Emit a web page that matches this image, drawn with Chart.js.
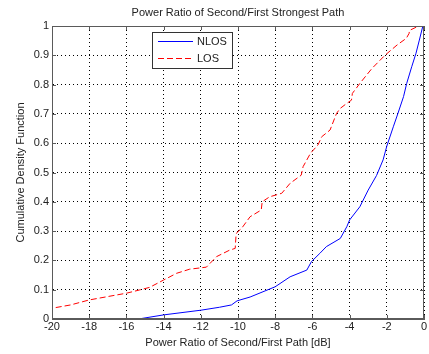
<!DOCTYPE html>
<html>
<head>
<meta charset="utf-8">
<script src="https://cdn.jsdelivr.net/npm/chart.js@4.4.1/dist/chart.umd.min.js"></script>
<style>
  body { margin: 0; background: #fff; }
</style>
</head>
<body>
<canvas id="cdf" width="429" height="354"></canvas>
<script>
// values
const nlosX = [-15.35, -14.0, -12.0, -11.0, -10.35, -10.05, -9.35, -8.0, -7.2, -6.3, -6.05, -5.6, -5.25, -4.5, -4.15, -4.0, -3.45, -3.0, -2.55, -2.2, -2.0, -1.65, -1.4, -1.1, -0.93, -0.66, -0.43, -0.25, -0.07, 0]
const nlosY = [0, 0.014, 0.03, 0.04, 0.048, 0.062, 0.075, 0.11, 0.144, 0.167, 0.196, 0.224, 0.247, 0.275, 0.315, 0.338, 0.383, 0.44, 0.49, 0.543, 0.59, 0.656, 0.702, 0.759, 0.804, 0.861, 0.907, 0.952, 0.998, 1]

const losX = [-19.8, -19.0, -18.0, -17.05, -16.0, -15.3, -14.75, -14.0, -13.3, -12.6, -11.7, -11.15, -10.45, -10.15, -10.1, -9.8, -9.35, -8.75, -8.7, -8.3, -7.65, -7.2, -6.6, -6.5, -6.1, -5.7, -5.5, -5.05, -4.7, -4.5, -4.15, -3.9, -3.85, -3.45, -2.8, -2.1, -1.45, -0.95, -0.8, -0.78, -0.35, -0.3]
const losY = [0.039, 0.048, 0.065, 0.076, 0.088, 0.099, 0.108, 0.133, 0.156, 0.17, 0.177, 0.213, 0.235, 0.241, 0.292, 0.31, 0.349, 0.372, 0.40, 0.417, 0.429, 0.463, 0.491, 0.52, 0.566, 0.594, 0.622, 0.645, 0.702, 0.719, 0.736, 0.747, 0.77, 0.804, 0.855, 0.9, 0.935, 0.958, 0.975, 0.985, 0.998, 1.0]

const seriesNames = ["NLOS", "LOS"]
const xTickStep = 2
const yTickStep = 0.1

const toPoints = (xs, ys) => xs.map((x, i) => ({x: x, y: ys[i]}))

const FONT = "'Liberation Sans', Arial, sans-serif"
const boxColor = "#5a5a5a"

// matlab style box, inward ticks and legend
const matlabBox = {
    id: 'matlabBox',
    afterDatasetsDraw: (chart) => {
        const ctx = chart.ctx
        const a = chart.chartArea
        const xs = chart.scales.x
        const ys = chart.scales.y
        ctx.save()
        ctx.strokeStyle = boxColor
        ctx.lineWidth = 1
        ctx.setLineDash([])
        ctx.beginPath()
        xs.ticks.forEach(t => {
            const px = Math.round(xs.getPixelForValue(t.value)) + 0.5
            ctx.moveTo(px, a.bottom); ctx.lineTo(px, a.bottom - 4)
            ctx.moveTo(px, a.top); ctx.lineTo(px, a.top + 4)
        })
        ys.ticks.forEach(t => {
            const py = Math.round(ys.getPixelForValue(t.value)) + 0.5
            ctx.moveTo(a.left, py); ctx.lineTo(a.left + 4, py)
            ctx.moveTo(a.right, py); ctx.lineTo(a.right - 4, py)
        })
        ctx.stroke()
        ctx.strokeRect(Math.round(a.left) + 0.5, Math.round(a.top) + 0.5, Math.round(a.right - a.left) - 1, Math.round(a.bottom - a.top) - 1)

        // legend
        const lx = 152, ly = 32, lw = 80, lh = 36
        ctx.fillStyle = "#fff"
        ctx.fillRect(lx, ly, lw, lh)
        ctx.strokeStyle = "#333"
        ctx.strokeRect(lx + 0.5, ly + 0.5, lw, lh)
        ctx.font = "11px " + FONT
        ctx.textBaseline = "middle"
        chart.data.datasets.forEach((ds, i) => {
            const yy = ly + 9 + i * 17 + 0.5
            ctx.strokeStyle = ds.borderColor
            ctx.setLineDash(ds.borderDash || [])
            ctx.beginPath()
            ctx.moveTo(158, yy); ctx.lineTo(193, yy)
            ctx.stroke()
            ctx.fillStyle = "#222"
            ctx.fillText(ds.label, 197, yy)
        })
        ctx.restore()
    }
}

new Chart(document.getElementById("cdf"), {
    type: 'scatter',
    data: {
        datasets: [{
            label: seriesNames[0],
            data: toPoints(nlosX, nlosY),
            showLine: true,
            borderColor: '#0000ff',
            borderWidth: 1,
            pointRadius: 0,
            tension: 0
        }, {
            label: seriesNames[1],
            data: toPoints(losX, losY),
            showLine: true,
            borderColor: '#ff0000',
            borderWidth: 1,
            borderDash: [6, 3],
            pointRadius: 0,
            tension: 0
        }]
    },
    options: {
        responsive: false,
        animation: false,
        layout: { padding: { left: 0, right: 5, top: 0, bottom: 0 } },
        plugins: {
            legend: { display: false },
            tooltip: { enabled: false },
            title: {
                display: true,
                text: 'Power Ratio of Second/First Strongest Path',
                fullSize: false,
                color: '#222',
                font: { family: FONT, size: 11, weight: 'normal' },
                padding: { top: 6, bottom: 6.8 }
            }
        },
        scales: {
            x: {
                type: 'linear',
                min: -20, max: 0,
                ticks: { stepSize: xTickStep, color: '#222', padding: 1, font: { family: FONT, size: 11 } },
                grid: { color: '#000', lineWidth: 1, drawTicks: false },
                border: { display: true, color: boxColor, dash: [1, 3] },
                title: { display: true, text: 'Power Ratio of Second/First Path [dB]', color: '#222', font: { family: FONT, size: 11 }, padding: { top: 0, bottom: 4 } },
                afterFit: (scale) => { scale.height = 35 }
            },
            y: {
                type: 'linear',
                min: 0, max: 1,
                ticks: {
                    stepSize: yTickStep, color: '#222', padding: 3, font: { family: FONT, size: 11 },
                    callback: (v) => String(Number(v.toFixed(1)))
                },
                grid: { color: '#000', lineWidth: 1, drawTicks: false },
                border: { display: true, color: boxColor, dash: [1, 3] },
                title: { display: true, text: 'Cumulative Density Function', color: '#222', font: { family: FONT, size: 11 }, padding: { top: 14, bottom: 0 } },
                afterFit: (scale) => { scale.width = 52 }
            }
        }
    },
    plugins: [matlabBox]
})
</script>
</body>
</html>
